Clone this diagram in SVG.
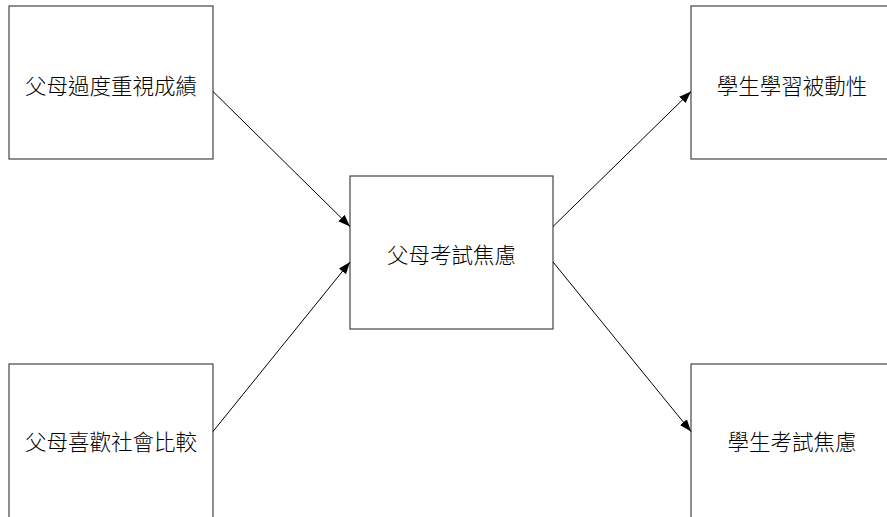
<svg xmlns="http://www.w3.org/2000/svg" width="887" height="517" viewBox="0 0 887 517">
<defs>
<style>
.box{fill:#fff;stroke:#444;stroke-width:1.2}
.lbl{font-family:"Noto Sans CJK TC","Noto Sans CJK SC",sans-serif;font-size:21.5px;font-weight:300;fill:#000;text-anchor:middle;dominant-baseline:central}
.conn{stroke:#000;stroke-width:1;fill:none;marker-end:url(#arr)}
</style>
<marker id="arr" markerUnits="userSpaceOnUse" markerWidth="13" markerHeight="10" refX="12" refY="4.5" orient="auto">
<path d="M0,0 L12,4.5 L0,9 z" fill="#000"/>
</marker>
</defs>
<rect width="887" height="517" fill="#fff"/>
<g id="n1"><rect class="box" x="9" y="6" width="204" height="153"/><text class="lbl" x="111" y="84">父母過度重視成績</text></g>
<g id="n2"><rect class="box" x="9" y="364" width="204" height="160"/><text class="lbl" x="111" y="440">父母喜歡社會比較</text></g>
<g id="n3"><rect class="box" x="350" y="176" width="203" height="153"/><text class="lbl" x="451.5" y="253">父母考試焦慮</text></g>
<g id="n4"><rect class="box" x="691" y="6" width="204" height="153"/><text class="lbl" x="792" y="84">學生學習被動性</text></g>
<g id="n5"><rect class="box" x="691" y="364" width="204" height="160"/><text class="lbl" x="792" y="440">學生考試焦慮</text></g>
<g id="connectors">
<line class="conn" x1="213" y1="91.5" x2="350" y2="226.5"/>
<line class="conn" x1="213" y1="431.5" x2="350" y2="262"/>
<line class="conn" x1="553" y1="226.5" x2="691" y2="91.5"/>
<line class="conn" x1="553" y1="262" x2="691" y2="431.5"/>
</g>
</svg>
